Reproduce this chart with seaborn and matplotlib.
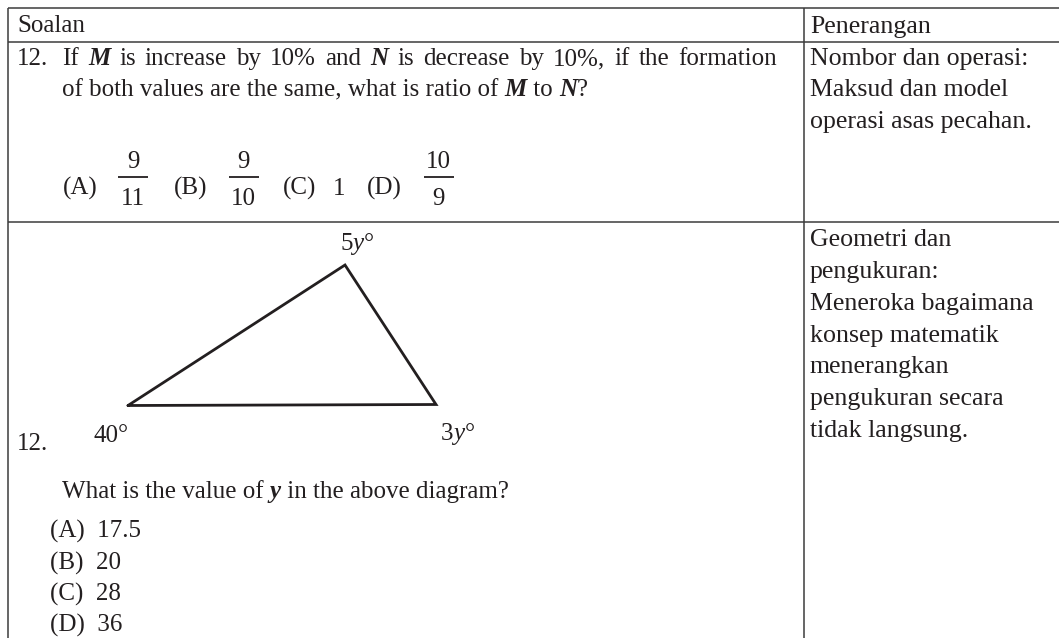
import re
import matplotlib
matplotlib.use("Agg")
import matplotlib.pyplot as plt
from matplotlib.font_manager import FontProperties
import seaborn as sns
import pandas as pd

# ---------------- data ----------------
header_left = "Soalan"
header_right = "Penerangan"

q1_number = "12."
q1_line1 = [("If ", "n"), ("M", "bi"), (" is increase by 10% and ", "n"), ("N", "bi"),
            (" is decrease by 10%, if the formation", "n")]
q1_line2 = [("of both values are the same, what is ratio of ", "n"), ("M", "bi"), (" to ", "n"),
            ("N", "bi"), ("?", "n")]
q1_option_labels = ["(A)", "(B)", "(C)", "(D)"]
q1_option_num = ["9", "9", "1", "10"]
q1_option_den = ["11", "10", None, "9"]

q1_expl = ["Nombor dan operasi:", "Maksud dan model", "operasi asas pecahan."]

tri_x = [128, 345, 436, 128]
tri_y = [405.5, 265, 404.5, 405.5]
angle_labels = [[("40", "n"), ("°", "n")], [("5", "n"), ("y", "i"), ("°", "n")],
                [("3", "n"), ("y", "i"), ("°", "n")]]
q2_number = "12."
q2_question = [("What is the value of ", "n"), ("y", "bi"), (" in the above diagram?", "n")]
q2_options = ["(A)  17.5", "(B)  20", "(C)  28", "(D)  36"]
q2_expl = ["Geometri dan", "pengukuran:", "Meneroka bagaimana", "konsep matematik",
           "menerangkan", "pengukuran secara", "tidak langsung."]

# ---------------- style ----------------
sns.set_theme(style="white")
plt.rcParams["font.family"] = ["Liberation Serif", "DejaVu Serif"]
TXT = "#231f20"
LINE = "#3c3c3c"
FS = 18.0
FS_R = 18.6

W, H = 1059, 638
fig = plt.figure(figsize=(W / 100, H / 100), dpi=100)
fig.patch.set_facecolor("white")
ax = fig.add_axes([0, 0, 1, 1])
ax.set_facecolor("white")
renderer = fig.canvas.get_renderer()


def prop(style, size=FS):
    if style == "bi":
        return FontProperties(family="Liberation Serif", size=size, weight="bold", style="italic")
    if style == "i":
        return FontProperties(family="Liberation Serif", size=size, style="italic")
    return FontProperties(family="Liberation Serif", size=size)


def tw(s, style="n", size=FS):
    p = prop(style, size)
    a = renderer.get_text_width_height_descent(s + "x", p, False)[0]
    b = renderer.get_text_width_height_descent("x", p, False)[0]
    return a - b


def runs(x, y, parts, size=FS):
    for s, st in parts:
        ax.text(x, y, s, fontproperties=prop(st, size), color=TXT, ha="left", va="baseline")
        x += tw(s, st, size)
    return x


def justified(x, y, parts, end, size=FS):
    tokens = []
    for s, st in parts:
        for tok in re.split(r"( )", s):
            if tok:
                tokens.append((tok, st))
    natural = sum(tw(t, st, size) for t, st in tokens)
    nsp = sum(1 for t, _ in tokens if t == " ")
    extra = (end - x - natural) / nsp if nsp else 0.0
    for t, st in tokens:
        if t == " ":
            x += tw(" ", st, size) + extra
            continue
        ax.text(x, y, t, fontproperties=prop(st, size), color=TXT, ha="left", va="baseline")
        x += tw(t, st, size)


def txt(x, y, s, ha="left", size=FS):
    ax.text(x, y, s, fontproperties=prop("n", size), color=TXT, ha=ha, va="baseline")


# ---------------- triangle (seaborn) ----------------
tri = pd.DataFrame({"x": tri_x, "y": tri_y, "order": range(len(tri_x))})
sns.lineplot(data=tri, x="x", y="y", sort=False, estimator=None, ax=ax,
             color=TXT, lw=2.0, solid_joinstyle="miter")

# ---------------- table lines ----------------
X_LEFT, X_DIV = 7.5, 803.5
for yy in [7.5, 41.5, 221.5]:
    ax.plot([X_LEFT, W], [yy, yy], color=LINE, lw=1.1, solid_capstyle="butt")
for xx in [X_LEFT, X_DIV]:
    ax.plot([xx, xx], [7.5, H], color=LINE, lw=1.1, solid_capstyle="butt")

# ---------------- header ----------------
txt(17, 32.5, header_left)
txt(810, 32.5, header_right, size=FS_R)

# ---------------- row 1 ----------------
txt(17, 65, q1_number)
justified(62, 65, q1_line1, end=777)
runs(62, 96.5, q1_line2)

opt_x = [63, 174, 283, 367]
frac_cx = [133, 243.5, 339.5, 438.5]
for lab, num, den, ox, cx in zip(q1_option_labels, q1_option_num, q1_option_den, opt_x, frac_cx):
    txt(ox, 195, lab)
    if den is None:
        txt(cx, 195, num, ha="center")
    else:
        bw = max(tw(num), tw(den)) + 5
        ax.plot([cx - bw / 2, cx + bw / 2], [176.5, 176.5], color=TXT, lw=1.3,
                solid_capstyle="butt")
        txt(cx, 168, num, ha="center")
        txt(cx, 205, den, ha="center")

for i, s in enumerate(q1_expl):
    txt(810, 65 + i * 31.5, s, size=FS_R)

# ---------------- row 2 ----------------
runs(93, 441.5, angle_labels[0])
runs(340, 250, angle_labels[1])
runs(441, 440, angle_labels[2])
txt(17, 450, q2_number)
runs(62, 498, q2_question)
for i, s in enumerate(q2_options):
    txt(50, 538 + i * 31.2, s)
for i, s in enumerate(q2_expl):
    txt(810, 246.5 + i * 31.67, s, size=FS_R)

ax.set_xlim(0, W)
ax.set_ylim(H, 0)
ax.axis("off")
fig.savefig("out.png", dpi=100, facecolor="white")
